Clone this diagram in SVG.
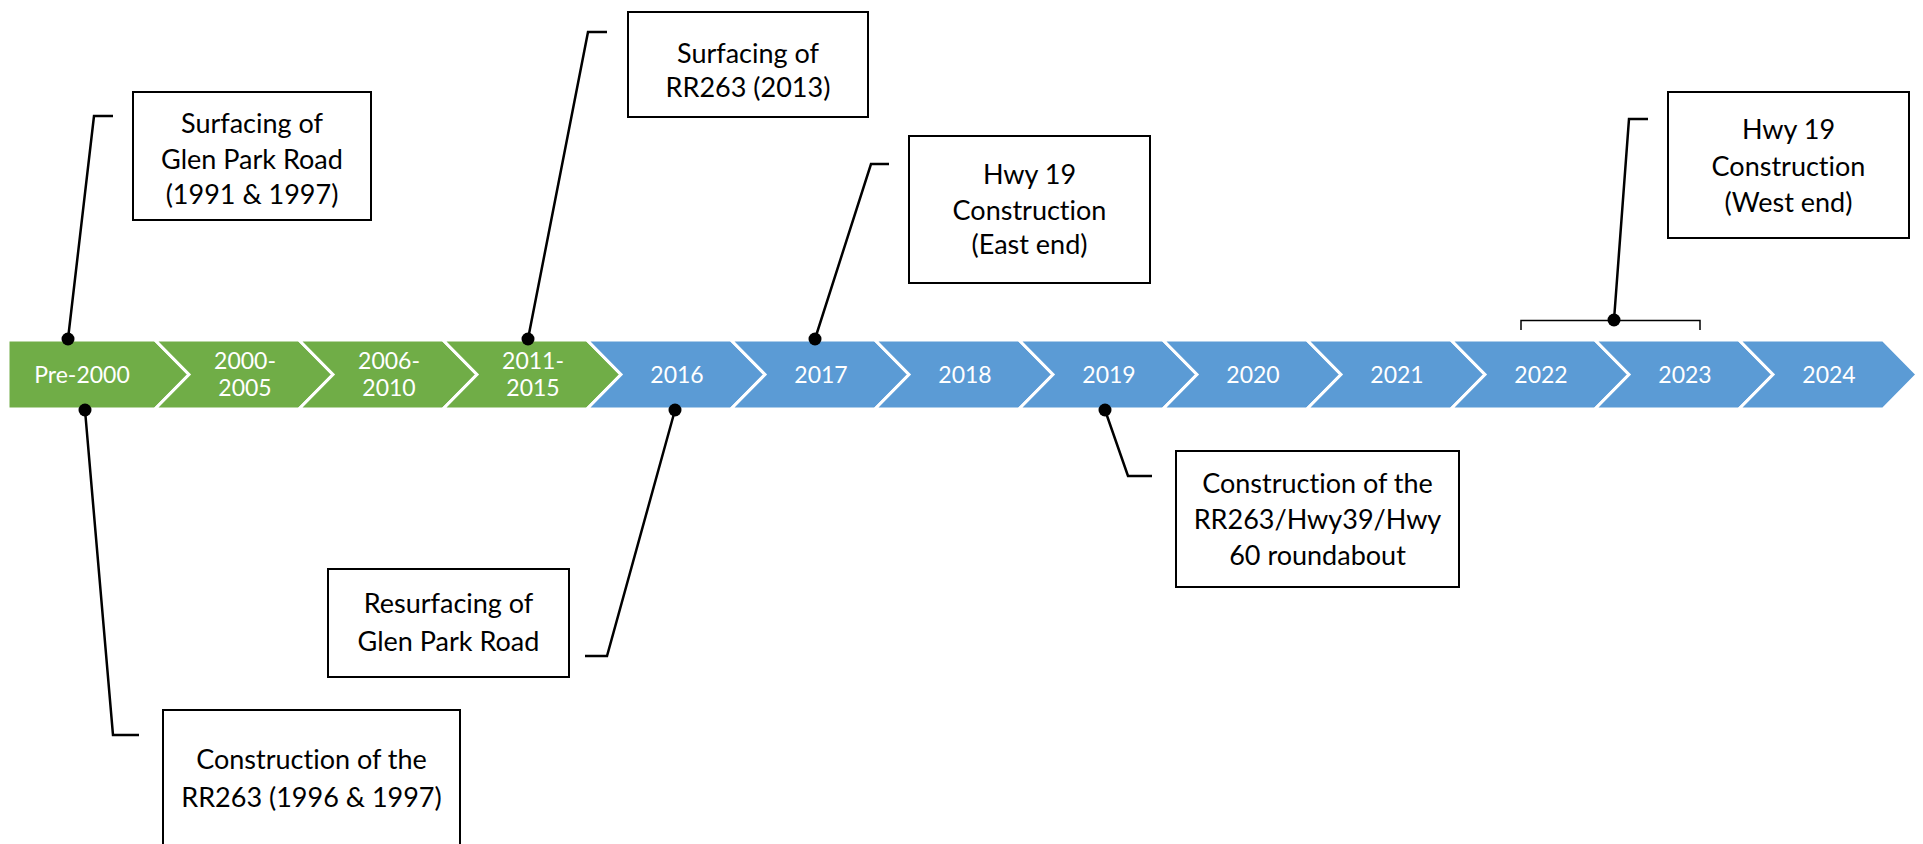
<svg xmlns="http://www.w3.org/2000/svg" width="1923" height="844" viewBox="0 0 1923 844">
<style>
.g{fill:#70AD47;stroke:#fff;stroke-width:3;stroke-linejoin:miter}
.b{fill:#5B9BD5;stroke:#fff;stroke-width:3;stroke-linejoin:miter}
.lab{font-family:Lato,"Liberation Sans",sans-serif;font-size:23px;fill:#fff;text-anchor:middle;font-variant-ligatures:none}
.box{fill:#fff;stroke:#000;stroke-width:2}
.bt{font-family:Lato,"Liberation Sans",sans-serif;font-size:27px;fill:#000;text-anchor:middle;font-variant-ligatures:none}
.con{fill:none;stroke:#000;stroke-width:2.5;stroke-linejoin:miter}
.br{fill:none;stroke:#000;stroke-width:1.5}
.dot{fill:#000}
</style>
<g id="timeline">
<g id="seg-pre2000"><polygon class="g" points="8,340 155,340 189,374.5 155,409 8,409"/><text class="lab" x="82" y="383">Pre-2000</text></g>
<g id="seg-2000-2005"><polygon class="g" points="155,340 299,340 333,374.5 299,409 155,409 189,374.5"/><text class="lab" x="245" y="369">2000-</text><text class="lab" x="245" y="396">2005</text></g>
<g id="seg-2006-2010"><polygon class="g" points="299,340 443,340 477,374.5 443,409 299,409 333,374.5"/><text class="lab" x="389" y="369">2006-</text><text class="lab" x="389" y="396">2010</text></g>
<g id="seg-2011-2015"><polygon class="g" points="443,340 587,340 621,374.5 587,409 443,409 477,374.5"/><text class="lab" x="533" y="369">2011-</text><text class="lab" x="533" y="396">2015</text></g>
<g id="seg-2016"><polygon class="b" points="587,340 731,340 765,374.5 731,409 587,409 621,374.5"/><text class="lab" x="677" y="383">2016</text></g>
<g id="seg-2017"><polygon class="b" points="731,340 875,340 909,374.5 875,409 731,409 765,374.5"/><text class="lab" x="821" y="383">2017</text></g>
<g id="seg-2018"><polygon class="b" points="875,340 1019,340 1053,374.5 1019,409 875,409 909,374.5"/><text class="lab" x="965" y="383">2018</text></g>
<g id="seg-2019"><polygon class="b" points="1019,340 1163,340 1197,374.5 1163,409 1019,409 1053,374.5"/><text class="lab" x="1109" y="383">2019</text></g>
<g id="seg-2020"><polygon class="b" points="1163,340 1307,340 1341,374.5 1307,409 1163,409 1197,374.5"/><text class="lab" x="1253" y="383">2020</text></g>
<g id="seg-2021"><polygon class="b" points="1307,340 1451,340 1485,374.5 1451,409 1307,409 1341,374.5"/><text class="lab" x="1397" y="383">2021</text></g>
<g id="seg-2022"><polygon class="b" points="1451,340 1595,340 1629,374.5 1595,409 1451,409 1485,374.5"/><text class="lab" x="1541" y="383">2022</text></g>
<g id="seg-2023"><polygon class="b" points="1595,340 1739,340 1773,374.5 1739,409 1595,409 1629,374.5"/><text class="lab" x="1685" y="383">2023</text></g>
<g id="seg-2024"><polygon class="b" points="1739,340 1883,340 1917,374.5 1883,409 1739,409 1773,374.5"/><text class="lab" x="1829" y="383">2024</text></g>
</g>
<g id="connectors">
<polyline class="con" points="68,339 94,116 113,116"/><circle class="dot" cx="68" cy="339" r="6.5"/>
<polyline class="con" points="528,339 588,32 607,32"/><circle class="dot" cx="528" cy="339" r="6.5"/>
<polyline class="con" points="815,339 871,164 889,164"/><circle class="dot" cx="815" cy="339" r="6.5"/>
<path class="br" d="M1521,330 V320.5 H1700 V330"/>
<polyline class="con" points="1614,320 1629,119 1648,119"/><circle class="dot" cx="1614" cy="320" r="6.5"/>
<polyline class="con" points="85,410 113,735 139,735"/><circle class="dot" cx="85" cy="410" r="6.5"/>
<polyline class="con" points="675,410 607,656 585,656"/><circle class="dot" cx="675" cy="410" r="6.5"/>
<polyline class="con" points="1105,410 1128,476 1152,476"/><circle class="dot" cx="1105" cy="410" r="6.5"/>
</g>
<g id="box-glen-park-surfacing"><rect class="box" x="133" y="92" width="238" height="128"/><text class="bt" x="252" y="133">Surfacing of</text><text class="bt" x="252" y="169">Glen Park Road</text><text class="bt" x="252" y="204">(1991 &amp; 1997)</text></g>
<g id="box-rr263-surfacing"><rect class="box" x="628" y="12" width="240" height="105"/><text class="bt" x="748" y="63">Surfacing of</text><text class="bt" x="748" y="97">RR263 (2013)</text></g>
<g id="box-hwy19-east"><rect class="box" x="909" y="136" width="241" height="147"/><text class="bt" x="1029.5" y="184">Hwy 19</text><text class="bt" x="1029.5" y="220">Construction</text><text class="bt" x="1029.5" y="254">(East end)</text></g>
<g id="box-hwy19-west"><rect class="box" x="1668" y="92" width="241" height="146"/><text class="bt" x="1788.5" y="139">Hwy 19</text><text class="bt" x="1788.5" y="176">Construction</text><text class="bt" x="1788.5" y="212">(West end)</text></g>
<g id="box-rr263-construction"><rect class="box" x="163" y="710" width="297" height="150"/><text class="bt" x="311.5" y="769">Construction of the</text><text class="bt" x="311.5" y="807">RR263 (1996 &amp; 1997)</text></g>
<g id="box-glen-park-resurfacing"><rect class="box" x="328" y="569" width="241" height="108"/><text class="bt" x="448.5" y="613">Resurfacing of</text><text class="bt" x="448.5" y="651">Glen Park Road</text></g>
<g id="box-roundabout"><rect class="box" x="1176" y="451" width="283" height="136"/><text class="bt" x="1317.5" y="493">Construction of the</text><text class="bt" x="1317.5" y="529">RR263/Hwy39/Hwy</text><text class="bt" x="1317.5" y="565">60 roundabout</text></g>
</svg>
